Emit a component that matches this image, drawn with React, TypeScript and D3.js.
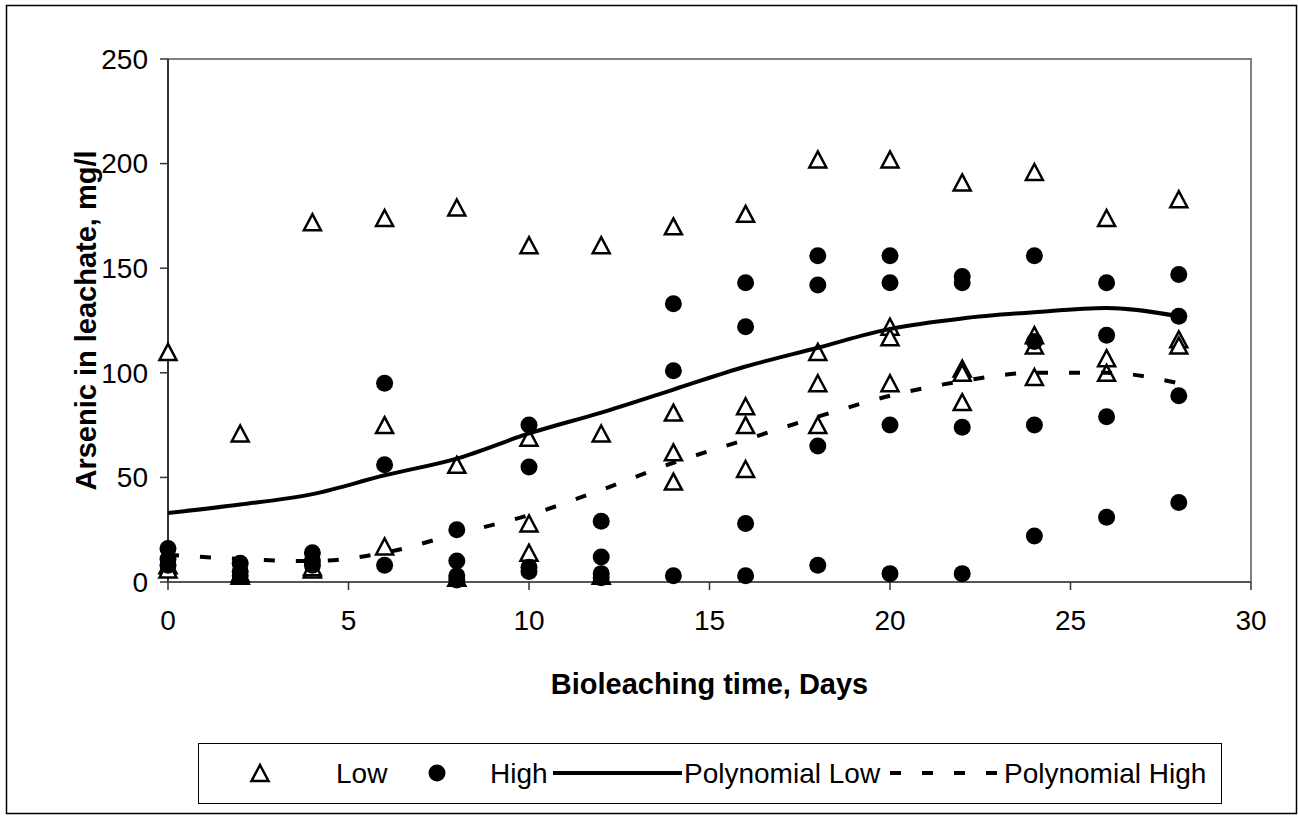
import * as React from 'react';
import * as d3 from 'd3';

// sampling days (x values)
const days = [0, 2, 4, 6, 8, 10, 12, 14, 16, 18, 20, 22, 24, 26, 28];

// arsenic (mg/l) for the "Low" series, one list per day
const lowValues = [
  [110, 8, 6],
  [71, 3, 4],
  [172, 6, 7],
  [174, 75, 17],
  [179, 56, 2],
  [161, 69, 28, 14],
  [161, 71, 3],
  [170, 81, 62, 48],
  [176, 84, 75, 54],
  [202, 110, 95, 75],
  [202, 122, 117, 95],
  [191, 102, 100, 86],
  [196, 118, 113, 98],
  [174, 107, 100],
  [183, 116, 113],
];

// arsenic (mg/l) for the "High" series, one list per day
const highValues = [
  [16, 11, 8],
  [9, 5, 3],
  [14, 10, 8],
  [95, 56, 8],
  [25, 10, 3, 1],
  [75, 55, 7, 5],
  [29, 12, 4, 2],
  [133, 101, 3],
  [143, 122, 28, 3],
  [156, 142, 65, 8],
  [156, 143, 75, 4],
  [146, 143, 74, 4],
  [156, 115, 75, 22],
  [143, 118, 79, 31],
  [147, 127, 89, 38],
];

// trend lines at each sampling day
const polyLow = [33, 37, 42, 51, 59, 71, 81, 92, 103, 112, 121, 126, 129, 131, 127];
const polyHigh = [13, 11, 10, 14, 23, 32, 44, 57, 68, 79, 89, 96, 100, 100, 95];

const xTicks = [0, 5, 10, 15, 20, 25, 30];
const yTicks = [0, 50, 100, 150, 200, 250];

const legendItems = ['Low', 'High', 'Polynomial Low', 'Polynomial High'];

const W = 1298;
const H = 816;
const FONT = '"Liberation Sans", Arial, sans-serif';
const TICK_FS = 28;
const TITLE_FS = 29;

const plot = { left: 168, top: 59, right: 1251, bottom: 582 };

const triPath = (w: number, h: number) =>
  `M0,${-h / 2}L${w / 2},${h / 2}L${-w / 2},${h / 2}Z`;

export default function App() {
  const x = d3.scaleLinear().domain([0, 30]).range([plot.left, plot.right]);
  const y = d3.scaleLinear().domain([0, 250]).range([plot.bottom, plot.top]);

  const lowPts = days.flatMap((d, i) => lowValues[i].map((v) => [d, v]));
  const highPts = days.flatMap((d, i) => highValues[i].map((v) => [d, v]));

  const line = d3
    .line<number>()
    .x((_, i) => x(days[i]))
    .y((v) => y(v))
    .curve(d3.curveMonotoneX);

  const tri = triPath(17, 16);

  // legend layout
  const legY = 773;

  return (
    <svg
      width={W}
      height={H}
      style={{ position: 'absolute', left: 0, top: 0, background: '#fff' }}
      fontFamily={FONT}
    >
      <rect x={0} y={0} width={W} height={H} fill="#fff" />
      {/* outer border */}
      <rect x={6.5} y={5.5} width={1290} height={808} fill="none" stroke="#000" strokeWidth={1.5} />

      {/* plot frame: grey top/right */}
      <path
        d={`M${plot.left},${plot.top}H${plot.right}V${plot.bottom}`}
        fill="none"
        stroke="#808080"
        strokeWidth={2}
      />
      {/* axes */}
      <line x1={plot.left} x2={plot.left} y1={plot.top} y2={plot.bottom} stroke="#333" strokeWidth={2} />
      <line x1={plot.left} x2={plot.right} y1={plot.bottom} y2={plot.bottom} stroke="#555" strokeWidth={2} />

      {yTicks.map((t) => (
        <g key={'y' + t}>
          <line x1={plot.left - 8} x2={plot.left} y1={y(t)} y2={y(t)} stroke="#333" strokeWidth={1.5} />
          <text x={plot.left - 20} y={y(t)} dy="0.35em" textAnchor="end" fontSize={TICK_FS}>
            {t}
          </text>
        </g>
      ))}
      {xTicks.map((t) => (
        <g key={'x' + t}>
          <line x1={x(t)} x2={x(t)} y1={plot.bottom} y2={plot.bottom + 8} stroke="#333" strokeWidth={1.5} />
          <text x={x(t)} y={plot.bottom + 48} textAnchor="middle" fontSize={TICK_FS}>
            {t}
          </text>
        </g>
      ))}

      <text
        x={(plot.left + plot.right) / 2}
        y={694}
        textAnchor="middle"
        fontSize={TITLE_FS}
        fontWeight="bold"
      >
        Bioleaching time, Days
      </text>
      <text
        transform={`translate(96,${(plot.top + plot.bottom) / 2}) rotate(-90)`}
        textAnchor="middle"
        fontSize={TITLE_FS}
        fontWeight="bold"
      >
        Arsenic in leachate, mg/l
      </text>

      {/* markers */}
      {lowPts.map(([d, v], i) => (
        <path
          key={'l' + i}
          d={tri}
          transform={`translate(${x(d)},${y(v)})`}
          fill="#fff"
          stroke="#000"
          strokeWidth={2.5}
        />
      ))}
      {highPts.map(([d, v], i) => (
        <circle key={'h' + i} cx={x(d)} cy={y(v)} r={8.5} fill="#000" />
      ))}

      {/* trend lines */}
      <path d={line(polyLow) || ''} fill="none" stroke="#000" strokeWidth={4} />
      <path d={line(polyHigh) || ''} fill="none" stroke="#000" strokeWidth={4} strokeDasharray="11,21" />

      {/* legend */}
      <rect x={198.5} y={743.5} width={1023} height={60} fill="#fff" stroke="#000" strokeWidth={1} />
      <path d={tri} transform={`translate(260,${legY})`} fill="#fff" stroke="#000" strokeWidth={2.5} />
      <text x={336} y={legY} dy="0.35em" fontSize={TICK_FS}>{legendItems[0]}</text>
      <circle cx={437} cy={legY} r={8.5} fill="#000" />
      <text x={490} y={legY} dy="0.35em" fontSize={TICK_FS}>{legendItems[1]}</text>
      <line x1={553} x2={682} y1={legY} y2={legY} stroke="#000" strokeWidth={4} />
      <text x={684} y={legY} dy="0.35em" fontSize={TICK_FS}>{legendItems[2]}</text>
      <line x1={890} x2={1002} y1={legY} y2={legY} stroke="#000" strokeWidth={4} strokeDasharray="11,21" />
      <text x={1004} y={legY} dy="0.35em" fontSize={TICK_FS}>{legendItems[3]}</text>
    </svg>
  );
}
